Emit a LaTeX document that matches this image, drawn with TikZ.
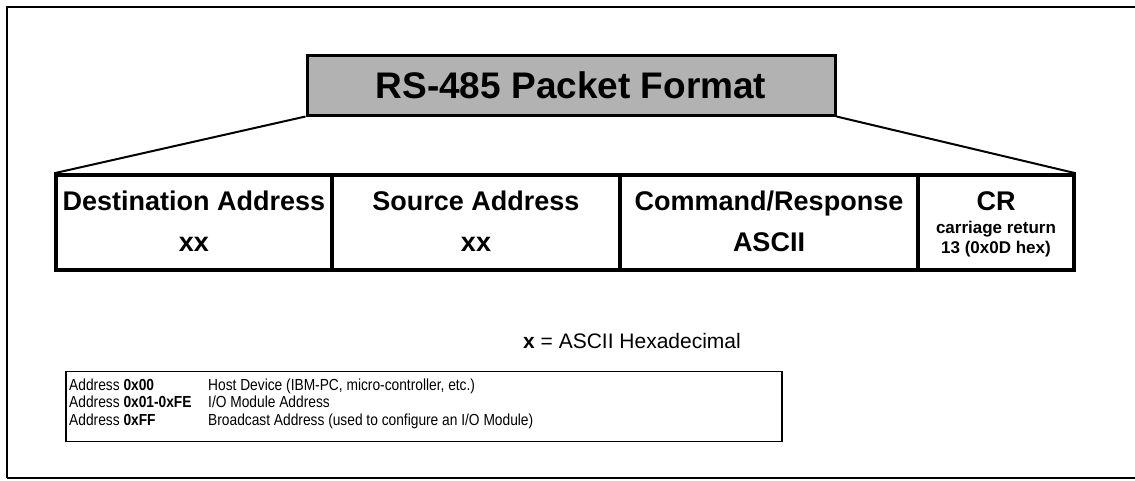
\documentclass[tikz,border=0pt]{standalone}
\usepackage{fontspec}
\setmainfont{Liberation Sans}
\newfontfamily\narrowsans[FakeStretch=0.86]{Liberation Sans}
\begin{document}
\begin{tikzpicture}[x=1pt,y=-1pt,
  frame/.style={draw=black,line width=1.5pt},
  titlebox/.style={draw=black,line width=3pt,fill=black!30,minimum width=528pt,minimum height=60pt,inner sep=0pt},
  fieldbox/.style={draw=black,line width=3.5pt,minimum height=95pt,inner sep=0pt},
  fan/.style={draw=black,line width=2pt},
  fieldtxt/.style={font=\fontsize{27}{32}\selectfont\bfseries,anchor=base,inner sep=0pt},
  smalltxt/.style={font=\fontsize{17}{20}\selectfont\bfseries,anchor=base,inner sep=0pt},
  tabtxt/.style={font=\narrowsans\fontsize{16}{18}\selectfont,anchor=base west,inner sep=0pt},
  legendbox/.style={draw=black,line width=1.6pt,minimum width=716pt,minimum height=70pt,inner sep=0pt}
]
\useasboundingbox (0,0) rectangle (1135,480);
\draw[frame] (7,478) -- (7,7) -- (1140,7);
\draw[frame] (7,478) -- (1140,478);

\node[titlebox] (title) at (571,85) {};
\node[font=\fontsize{37}{44}\selectfont\bfseries,anchor=base,inner sep=0pt] (titletxt) at (571,98) {RS-485 Packet Format};

\node[fieldbox,minimum width=276pt] (dest) at (194,222.5) {};
\node[fieldbox,minimum width=288pt] (src) at (476,222.5) {};
\node[fieldbox,minimum width=298pt] (cmd) at (769,222.5) {};
\node[fieldbox,minimum width=156pt] (cr) at (996,222.5) {};

\draw[fan] (title.south west) -- (dest.north west);
\draw[fan] (title.south east) -- (cr.north east);

\node[fieldtxt] (destA) at (194,210) {Destination Address};
\node[fieldtxt] (destB) at (194,251) {xx};
\node[fieldtxt] (srcA) at (476,210) {Source Address};
\node[fieldtxt] (srcB) at (476,251) {xx};
\node[fieldtxt] (cmdA) at (769,210) {Command/Response};
\node[fieldtxt] (cmdB) at (769,251) {ASCII};
\node[fieldtxt] (crA) at (996,210) {CR};
\node[smalltxt] (crB) at (996,233) {carriage return};
\node[smalltxt] (crC) at (996,253) {13 (0x0D hex)};

\node[font=\fontsize{21}{25}\selectfont,anchor=base,inner sep=0pt] (legend) at (632,348) {\textbf{x} = ASCII Hexadecimal};

\node[legendbox] (tab) at (424,406.5) {};
\node[tabtxt] (r1a) at (69,390) {Address \textbf{0x00}};
\node[tabtxt] (r1b) at (208,390) {Host Device (IBM-PC, micro-controller, etc.)};
\node[tabtxt] (r2a) at (69,407.5) {Address \textbf{0x01-0xFE}};
\node[tabtxt] (r2b) at (208,407.5) {I/O Module Address};
\node[tabtxt] (r3a) at (69,425) {Address \textbf{0xFF}};
\node[tabtxt] (r3b) at (208,425) {Broadcast Address (used to configure an I/O Module)};
\end{tikzpicture}
\end{document}
